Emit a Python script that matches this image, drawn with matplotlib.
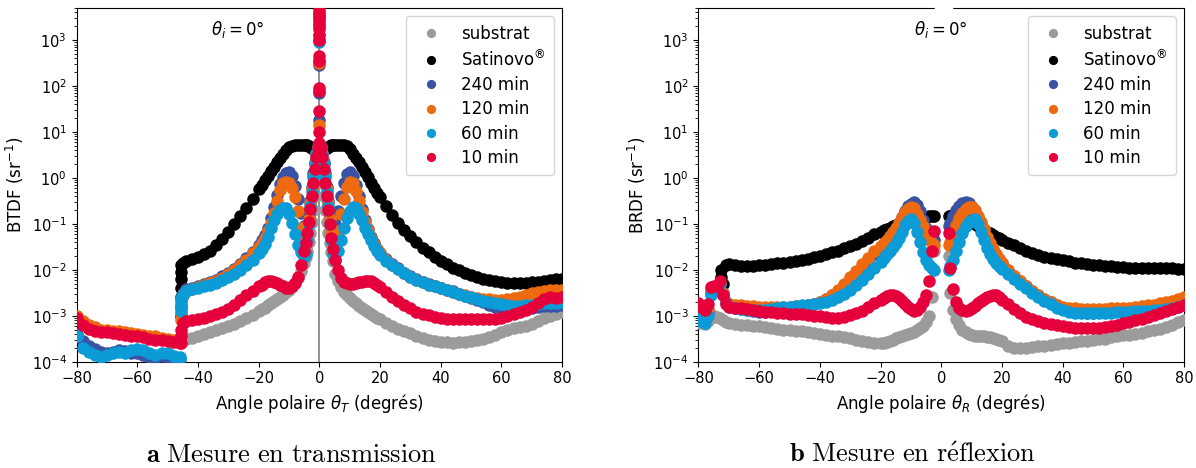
import numpy as np
import matplotlib
matplotlib.use("Agg")
import matplotlib.pyplot as plt

N = np.nan

# ---------------- Transmission panel (log10 of BTDF) ----------------
T_ANGLE = [-80, -78, -76, -74, -72, -70, -68, -66, -64, -62, -60, -58, -56, -54, -52, -50, -48, -46,
           -45, -44, -42, -40, -38, -36, -34, -32, -30, -28, -26, -24, -22,
           -20, -19, -18, -17, -16, -15, -14, -13, -12, -11, -10, -9, -8, -7, -6, -5,
           -4.5, -4, -3.5, -3, -2.5, -2, -1.5, -1, -0.5, 0, 0.5, 1, 1.5, 2, 2.5, 3, 3.5, 4, 4.5,
           5, 6, 7, 8, 9, 10, 11, 12, 13, 14, 15, 16, 17, 18, 19, 20,
           22, 24, 26, 28, 30, 32, 34, 36, 38, 40, 42, 44, 46, 48, 50, 52, 54, 56, 58, 60, 62, 64, 66, 68, 70, 72, 74, 76, 78, 80]

T_SUBSTRAT = [N, N, N, N, N, N, N, N, N, N, N, N, N, N, N, N, N, N,
              -3.45, -3.5, -3.48, -3.44, -3.4, -3.36, -3.31, -3.27, -3.22, -3.17, -3.11, -3.05, -2.98,
              -2.9, -2.86, -2.82, -2.77, -2.73, -2.68, -2.64, -2.59, -2.54, -2.49, -2.43, -2.37, -2.28, -2.17, -2.02, -1.85,
              -1.72, -1.58, -1.4, -1.2, -0.95, -0.7, -0.4, -0.1, 0.2, 0.5, 0.2, -0.1, -0.4, -0.7, -0.95, -1.2, -1.42, -1.62, -1.8,
              -2.1, -2.25, -2.38, -2.48, -2.55, -2.62, -2.68, -2.73, -2.78, -2.83, -2.88, -2.92, -2.97, -3.0, -3.04, -3.08,
              -3.15, -3.22, -3.28, -3.33, -3.38, -3.43, -3.48, -3.52, -3.55, -3.57, -3.58, -3.6, -3.58, -3.57, -3.55,
              -3.52, -3.5, -3.46, -3.42, -3.36, -3.3, -3.27, -3.25, -3.22, -3.18, -3.12, -3.05, -3.0, -2.95, -2.92]

T_SATINOVO = [N, N, N, N, N, N, N, N, N, N, N, N, N, N, N, N, N, N,
              -1.85, -1.8, -1.77, -1.73, -1.66, -1.58, -1.47, -1.33, -1.17, -1.0, -0.83, -0.65, -0.45,
              -0.25, -0.15, -0.05, 0.05, 0.15, 0.24, 0.34, 0.44, 0.53, 0.61, 0.67, 0.7, 0.72, 0.72, 0.71, 0.71,
              0.71, 0.71, 0.7, 0.68, 0.66, 0.64, 0.63, 0.62, 0.62, 0.62, 0.62, 0.62, 0.63, 0.64, 0.66, 0.68, 0.7, 0.71, 0.71,
              0.72, 0.72, 0.72, 0.71, 0.69, 0.62, 0.53, 0.44, 0.34, 0.23, 0.12, 0.01, -0.1, -0.21, -0.32, -0.42,
              -0.62, -0.81, -0.97, -1.13, -1.27, -1.4, -1.52, -1.62, -1.72, -1.81, -1.88, -1.95, -2.01, -2.07, -2.11,
              -2.15, -2.19, -2.22, -2.25, -2.27, -2.28, -2.29, -2.29, -2.28, -2.27, -2.26, -2.24, -2.22, -2.2, -2.19]

T_240 = [-3.4, -3.55, -3.65, -3.72, -3.78, -3.8, -3.78, -3.75, -3.77, -3.8, -3.82, -3.85, -3.9, -3.92, -3.88, -3.9, -3.92, -3.95,
         -2.5, -2.42, -2.39, -2.35, -2.31, -2.27, -2.21, -2.14, -2.07, -1.98, -1.87, -1.75, -1.61,
         -1.45, -1.36, -1.24, -1.08, -0.88, -0.64, -0.38, -0.14, 0.02, 0.1, 0.13, 0.05, -0.17, -0.45, -0.77, -1.05,
         -1.12, -1.05, -0.8, -0.5, -0.2, 0.1, 0.35, 0.55, 0.68, 0.72, 0.68, 0.55, 0.35, 0.1, -0.2, -0.5, -0.8, -1.05, -1.12,
         -1.0, -0.72, -0.4, -0.1, 0.08, 0.13, 0.04, -0.15, -0.4, -0.68, -0.92, -1.12, -1.28, -1.42, -1.54, -1.63,
         -1.77, -1.88, -1.97, -2.06, -2.14, -2.2, -2.26, -2.31, -2.35, -2.39, -2.43, -2.47, -2.52, -2.56, -2.61,
         -2.66, -2.71, -2.76, -2.8, -2.84, -2.86, -2.87, -2.87, -2.86, -2.83, -2.8, -2.78, -2.78, -2.78, -2.76]

T_120 = [-3.0, -3.12, -3.2, -3.25, -3.3, -3.3, -3.32, -3.34, -3.35, -3.38, -3.4, -3.42, -3.45, -3.45, -3.48, -3.5, -3.52, -3.55,
         -2.55, -2.45, -2.41, -2.37, -2.33, -2.29, -2.24, -2.17, -2.1, -2.01, -1.9, -1.78, -1.64,
         -1.5, -1.41, -1.3, -1.16, -0.98, -0.76, -0.5, -0.26, -0.12, -0.08, -0.1, -0.22, -0.42, -0.72, -1.08, -1.35,
         -1.4, -1.2, -0.9, -0.55, -0.25, 0.05, 0.32, 0.53, 0.67, 0.72, 0.67, 0.53, 0.32, 0.05, -0.25, -0.55, -0.9, -1.2, -1.42,
         -1.45, -1.15, -0.78, -0.45, -0.2, -0.09, -0.12, -0.28, -0.5, -0.74, -0.96, -1.14, -1.3, -1.44, -1.55, -1.64,
         -1.78, -1.89, -1.98, -2.07, -2.15, -2.21, -2.27, -2.32, -2.36, -2.4, -2.44, -2.48, -2.52, -2.55, -2.58,
         -2.61, -2.63, -2.64, -2.65, -2.65, -2.64, -2.62, -2.59, -2.55, -2.51, -2.48, -2.45, -2.44, -2.43, -2.43]

T_60 = [-3.45, -3.7, -3.78, -3.85, -3.9, -3.85, -3.8, -3.78, -3.8, -3.75, -3.72, -3.75, -3.8, -3.85, -3.8, -3.82, -3.88, -3.9,
        -2.55, -2.45, -2.42, -2.39, -2.36, -2.32, -2.28, -2.23, -2.16, -2.09, -2.0, -1.9, -1.78,
        -1.63, -1.54, -1.43, -1.28, -1.1, -0.92, -0.78, -0.69, -0.65, -0.66, -0.78, -0.98, -1.22, -1.45, -1.62, -1.72,
        -1.65, -1.35, -1.0, -0.62, -0.3, 0.02, 0.3, 0.52, 0.66, 0.71, 0.66, 0.52, 0.3, 0.02, -0.3, -0.62, -1.0, -1.35, -1.65,
        -1.78, -1.6, -1.35, -1.1, -0.88, -0.72, -0.64, -0.66, -0.78, -0.92, -1.08, -1.22, -1.35, -1.48, -1.58, -1.68,
        -1.8, -1.9, -1.99, -2.07, -2.15, -2.21, -2.27, -2.32, -2.36, -2.4, -2.44, -2.48, -2.52, -2.56, -2.6,
        -2.63, -2.67, -2.7, -2.73, -2.75, -2.77, -2.78, -2.78, -2.77, -2.76, -2.75, -2.73, -2.72, -2.72, -2.71]

T_10 = [-3.05, -3.2, -3.28, -3.32, -3.35, -3.36, -3.38, -3.4, -3.42, -3.43, -3.45, -3.47, -3.5, -3.52, -3.53, -3.55, -3.57, -3.6,
        -3.15, -3.11, -3.09, -3.07, -3.04, -3.01, -2.97, -2.92, -2.86, -2.77, -2.66, -2.55, -2.45,
        -2.36, -2.32, -2.27, -2.25, -2.25, -2.26, -2.28, -2.32, -2.36, -2.39, -2.39, -2.36, -2.28, -2.15, -1.9, -1.6,
        -1.42, -1.2, -0.95, -0.68, -0.4, -0.1, 0.2, 0.45, 0.65, 0.75, 0.65, 0.45, 0.2, -0.1, -0.4, -0.7, -1.0, -1.3, -1.55,
        -1.78, -2.0, -2.18, -2.26, -2.29, -2.3, -2.3, -2.29, -2.27, -2.26, -2.25, -2.24, -2.25, -2.28, -2.33, -2.38,
        -2.48, -2.58, -2.67, -2.76, -2.84, -2.91, -2.96, -2.99, -3.02, -3.04, -3.06, -3.08, -3.08, -3.08, -3.08,
        -3.08, -3.08, -3.07, -3.06, -3.04, -3.01, -2.97, -2.92, -2.87, -2.8, -2.72, -2.64, -2.6, -2.62, -2.6]

# step at the edge of the sample holder (theta_T = -45.5 deg)
T_STEP_ANGLE = -45.5
T_STEP_SATINOVO = [-3.0, -2.8, -2.6, -2.4, -2.2, -2.05, -1.9]
T_STEP_240 = [-3.0, -2.8, -2.65]
T_STEP_120 = [-3.1, -2.95, -2.8, -2.65]
T_STEP_60 = [-2.9, -2.75, -2.62]
T_STEP_10 = [-3.6, -3.45, -3.3]

# specular spike at theta_T = 0
T_SPIKE_240 = [3.55, 3.3, 3.0, 2.55, 2.45, 1.85, 1.25]
T_SPIKE_120 = [3.45, 2.5, 1.15]
T_SPIKE_60 = [3.4, 3.1, 2.95]
T_SPIKE_10 = [3.65, 3.6, 3.52, 3.45, 3.35, 3.25, 3.12, 3.0, 2.65, 2.55, 1.95, 1.9, 1.45, 1.0]

# ---------------- Reflection panel (log10 of BRDF) ----------------
R_ANGLE = [-80, -79, -78, -77, -76, -75, -74, -73, -72, -71, -70,
           -68, -66, -64, -62, -60, -58, -56, -54, -52, -50, -48, -46, -44, -42, -40, -38, -36, -34, -32, -30, -28, -26, -24, -22,
           -20, -19, -18, -17, -16, -15, -14, -13, -12, -11, -10, -9, -8, -7, -6, -5, -4, -3, -2.5,
           2.5, 3, 4, 5, 6, 7, 8, 9, 10, 11, 12, 13, 14, 15, 16, 17, 18, 19, 20,
           22, 24, 26, 28, 30, 32, 34, 36, 38, 40, 42, 44, 46, 48, 50, 52, 54, 56, 58, 60, 62, 64, 66, 68, 70, 72, 74, 76, 78, 80]

R_SUBSTRAT = [-3.1, -3.15, -3.18, -3.12, -3.05, -3.0, -3.02, -3.05, -3.1, -3.14, -3.16,
              -3.18, -3.19, -3.2, -3.22, -3.23, -3.24, -3.26, -3.28, -3.3, -3.31, -3.33, -3.34, -3.36, -3.37, -3.39, -3.41, -3.43, -3.45, -3.47, -3.49, -3.52, -3.55, -3.57, -3.59,
              -3.6, -3.6, -3.58, -3.55, -3.52, -3.49, -3.46, -3.44, -3.42, -3.4, -3.38, -3.35, -3.31, -3.27, -3.22, -3.14, -3.0, -2.6, -1.6,
              -1.7, -2.5, -2.87, -3.08, -3.2, -3.3, -3.36, -3.4, -3.42, -3.43, -3.44, -3.45, -3.45, -3.46, -3.47, -3.48, -3.5, -3.52, -3.54,
              -3.66, -3.7, -3.7, -3.69, -3.67, -3.66, -3.65, -3.63, -3.61, -3.6, -3.59, -3.57, -3.55, -3.54, -3.53,
              -3.51, -3.5, -3.47, -3.45, -3.42, -3.41, -3.39, -3.37, -3.34, -3.31, -3.28, -3.24, -3.19, -3.14, -3.09]

R_SATINOVO = [N, N, N, N, N, N, N, N, -2.3, -1.9, -1.88,
              -1.9, -1.92, -1.92, -1.91, -1.9, -1.89, -1.88, -1.86, -1.85, -1.83, -1.8, -1.78, -1.76, -1.73, -1.7, -1.66, -1.62, -1.58, -1.53, -1.48, -1.43, -1.37, -1.3, -1.23,
              -1.17, -1.14, -1.11, -1.08, -1.05, -1.02, -0.99, -0.97, -0.94, -0.92, -0.9, -0.88, -0.87, -0.86, -0.85, -0.84, -0.83, -0.82, -0.82,
              -0.82, -0.83, -0.84, -0.85, -0.86, -0.88, -0.9, -0.93, -0.97, -1.0, -1.05, -1.09, -1.13, -1.17, -1.2, -1.24, -1.28, -1.31, -1.35,
              -1.41, -1.47, -1.53, -1.58, -1.63, -1.67, -1.71, -1.74, -1.76, -1.78, -1.81, -1.84, -1.86, -1.88, -1.89,
              -1.9, -1.91, -1.92, -1.93, -1.94, -1.95, -1.95, -1.96, -1.96, -1.96, -1.96, -1.97, -1.97, -1.98, -1.99]

R_240 = [-2.85, -2.95, -3.0, -2.9, -2.5, -2.42, -2.4, -2.28, -2.5, -2.7, -2.78,
         -2.82, -2.85, -2.87, -2.9, -2.92, -2.92, -2.9, -2.88, -2.86, -2.84, -2.82, -2.8, -2.77, -2.74, -2.7, -2.63, -2.55, -2.45, -2.34, -2.2, -2.07, -1.93, -1.8, -1.66,
         -1.55, -1.48, -1.41, -1.33, -1.24, -1.12, -0.98, -0.84, -0.72, -0.62, -0.56, -0.53, -0.58, -0.72, -0.92, -1.08, -1.2, -1.3, -1.35,
         -1.05, -0.97, -0.82, -0.7, -0.6, -0.55, -0.53, -0.55, -0.63, -0.75, -0.88, -1.0, -1.14, -1.3, -1.43, -1.56, -1.67, -1.77, -1.86,
         -2.0, -2.13, -2.25, -2.36, -2.46, -2.55, -2.63, -2.7, -2.76, -2.82, -2.86, -2.9, -2.92, -2.93, -2.93,
         -2.92, -2.9, -2.9, -2.9, -2.89, -2.88, -2.87, -2.86, -2.85, -2.83, -2.8, -2.78, -2.75, -2.72, -2.7]

R_120 = [-2.78, -2.85, -2.92, -2.85, -2.45, -2.4, -2.4, -2.28, -2.5, -2.7, -2.74,
         -2.76, -2.77, -2.78, -2.79, -2.8, -2.8, -2.8, -2.8, -2.8, -2.8, -2.79, -2.78, -2.76, -2.74, -2.7, -2.63, -2.54, -2.43, -2.3, -2.15, -2.02, -1.88, -1.74, -1.6,
         -1.48, -1.41, -1.34, -1.26, -1.17, -1.08, -0.97, -0.86, -0.75, -0.67, -0.63, -0.66, -0.78, -0.92, -1.05, -1.18, -1.33, -1.41, -1.45,
         -1.45, -1.4, -1.2, -1.02, -0.88, -0.76, -0.68, -0.64, -0.64, -0.7, -0.82, -0.96, -1.12, -1.28, -1.42, -1.55, -1.66, -1.76, -1.86,
         -2.0, -2.13, -2.25, -2.36, -2.46, -2.55, -2.63, -2.7, -2.76, -2.8, -2.82, -2.84, -2.85, -2.86, -2.86,
         -2.86, -2.85, -2.84, -2.83, -2.83, -2.82, -2.81, -2.79, -2.77, -2.76, -2.73, -2.7, -2.67, -2.63, -2.6]

R_60 = [-3.05, -3.12, -3.15, -3.0, -2.55, -2.45, -2.43, -2.3, -2.55, -2.72, -2.8,
        -2.84, -2.86, -2.87, -2.88, -2.88, -2.87, -2.85, -2.83, -2.81, -2.8, -2.78, -2.77, -2.76, -2.75, -2.73, -2.7, -2.66, -2.6, -2.52, -2.43, -2.33, -2.22, -2.1, -1.97,
        -1.82, -1.74, -1.66, -1.58, -1.5, -1.41, -1.3, -1.17, -1.03, -0.93, -0.9, -0.98, -1.17, -1.4, -1.62, -1.78, -1.9, -1.97, -2.0,
        -2.0, -1.92, -1.78, -1.6, -1.4, -1.2, -1.05, -0.95, -0.92, -0.9, -1.0, -1.17, -1.35, -1.52, -1.65, -1.76, -1.85, -1.92, -1.99,
        -2.1, -2.2, -2.3, -2.4, -2.5, -2.6, -2.68, -2.75, -2.82, -2.88, -2.91, -2.93, -2.94, -2.94, -2.94,
        -2.94, -2.93, -2.93, -2.92, -2.91, -2.91, -2.9, -2.9, -2.89, -2.88, -2.87, -2.85, -2.83, -2.8, -2.77]

R_10 = [-2.72, -2.8, -2.87, -2.75, -2.38, -2.36, -2.35, -2.25, -2.55, -2.75, -2.8,
        -2.82, -2.84, -2.86, -2.88, -2.9, -2.91, -2.92, -2.93, -2.94, -2.95, -2.96, -2.97, -2.98, -3.0, -3.01, -3.03, -3.04, -3.04, -3.02, -2.98, -2.94, -2.89, -2.81, -2.73,
        -2.66, -2.61, -2.57, -2.55, -2.55, -2.57, -2.61, -2.67, -2.74, -2.8, -2.86, -2.9, -2.88, -2.8, -2.7, -2.55, -2.25, -1.6, -1.15,
        -1.2, -1.95, -2.42, -2.7, -2.83, -2.88, -2.9, -2.87, -2.83, -2.78, -2.73, -2.68, -2.63, -2.6, -2.57, -2.55, -2.55, -2.59, -2.65,
        -2.74, -2.85, -2.94, -3.02, -3.08, -3.12, -3.15, -3.18, -3.2, -3.22, -3.24, -3.26, -3.27, -3.27, -3.27,
        -3.26, -3.24, -3.22, -3.19, -3.16, -3.13, -3.1, -3.07, -3.02, -2.98, -2.94, -2.9, -2.85, -2.8, -2.76]

R_STEP_ANGLE = -72.5
R_STEP_SATINOVO = [-2.45, -2.3, -2.15, -2.0]

LABELS = ["substrat", "Satinovo$^{\\circledR}$", "240 min", "120 min", "60 min", "10 min"]
COLORS = ["#9b9b9b", "#000000", "#3953a4", "#ee6a10", "#0b9bd7", "#e5003b"]

for arr in (T_SUBSTRAT, T_SATINOVO, T_240, T_120, T_60, T_10):
    assert len(arr) == len(T_ANGLE), len(arr)
for arr in (R_SUBSTRAT, R_SATINOVO, R_240, R_120, R_60, R_10):
    assert len(arr) == len(R_ANGLE), len(arr)

plt.rcParams["font.family"] = ["DejaVu Sans"]
fig = plt.figure(figsize=(11.96, 4.68), dpi=100)
axT = fig.add_axes([0.064, 0.227, 0.406, 0.756])
axR = fig.add_axes([0.584, 0.227, 0.406, 0.756])

MS = 8


def draw(ax, x, series, steps, spikes):
    for i, (vals, lab, col) in enumerate(zip(series, LABELS, COLORS)):
        v = 10 ** np.asarray(vals, dtype=float)
        ax.plot(x, v, "o", ms=MS, color=col, mec=col, label=lab, zorder=3 + i)
        if i in steps:
            sx, sv = steps[i]
            ax.plot([sx] * len(sv), 10 ** np.asarray(sv), "o", ms=MS, color=col, zorder=3 + i)
        if i in spikes:
            sv = spikes[i]
            ax.plot([0] * len(sv), 10 ** np.asarray(sv), "o", ms=MS, color=col, zorder=3 + i)


axT.axvline(0, color="grey", lw=1.2, zorder=2)
draw(axT, T_ANGLE, [T_SUBSTRAT, T_SATINOVO, T_240, T_120, T_60, T_10],
     {1: (T_STEP_ANGLE, T_STEP_SATINOVO), 2: (T_STEP_ANGLE, T_STEP_240),
      3: (T_STEP_ANGLE, T_STEP_120), 4: (T_STEP_ANGLE, T_STEP_60), 5: (T_STEP_ANGLE, T_STEP_10)},
     {2: T_SPIKE_240, 3: T_SPIKE_120, 4: T_SPIKE_60, 5: T_SPIKE_10})
draw(axR, R_ANGLE, [R_SUBSTRAT, R_SATINOVO, R_240, R_120, R_60, R_10],
     {1: (R_STEP_ANGLE, R_STEP_SATINOVO)}, {})

for ax, lab_y, lab_x in ((axT, "BTDF (sr$^{-1}$)", r"Angle polaire $\theta_T$ (degrés)"),
                         (axR, "BRDF (sr$^{-1}$)", r"Angle polaire $\theta_R$ (degrés)")):
    ax.set_yscale("log")
    ax.set_ylim(1e-4, 5e3)
    ax.set_xlim(-80, 80)
    ax.set_xticks([-80, -60, -40, -20, 0, 20, 40, 60, 80])
    ax.tick_params(labelsize=10.5)
    ax.set_ylabel(lab_y, fontsize=12)
    ax.set_xlabel(lab_x, fontsize=12)
    leg = ax.legend(loc="upper right", fontsize=12, handletextpad=0.8, borderpad=0.5,
                    labelspacing=0.38, markerscale=0.7)

axT.text(-27, 10 ** 3.22, r"$\theta_i = 0$°", fontsize=12, ha="center", va="center")
axR.text(0, 10 ** 3.22, r"$\theta_i = 0$°", fontsize=12, ha="center", va="center")
axR.plot([-1.6, 3.3], [5e3, 5e3], color="white", lw=2.5, clip_on=False, zorder=10)

fig.text(0.244, 0.028, r"$\mathbf{a}\ \mathrm{Mesure\ en\ transmission}$", fontsize=19,
         ha="center", va="center", math_fontfamily="cm")
fig.text(0.763, 0.028, r"$\mathbf{b}\ \mathrm{Mesure\ en\ r\acute{e}flexion}$", fontsize=19,
         ha="center", va="center", math_fontfamily="cm")

fig.savefig("out.png", dpi=100)
